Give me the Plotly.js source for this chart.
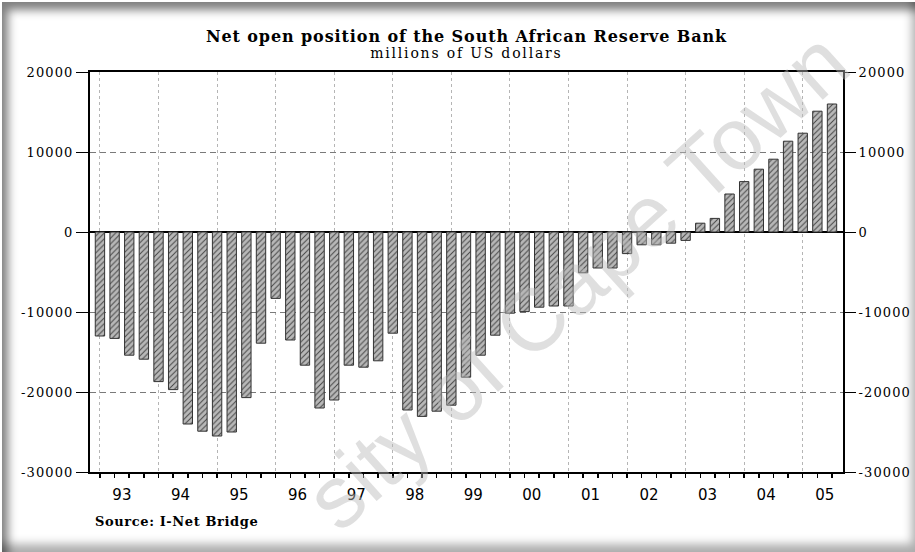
<!DOCTYPE html>
<html>
<head>
<meta charset="utf-8">
<script src="https://cdn.plot.ly/plotly-3.0.1.min.js"></script>
<style>
  html, body { margin: 0; padding: 0; background: #ffffff; }
  #wrap { position: relative; width: 915px; height: 552px; overflow: hidden; background: #ffffff; }
  #chart { position: absolute; left: 0; top: 0; width: 915px; height: 552px; }
  #frame { position: absolute; left: 2px; top: 2px; right: 0; bottom: 0; pointer-events: none;
           box-shadow: inset 10px 12px 10px -4px rgba(0,0,0,0.5), inset -7px -12px 10px -4px rgba(0,0,0,0.32); }
  #chart .gtitle { letter-spacing: 0.9px; }
  #chart .annotation[data-index="0"] text { letter-spacing: 1.8px; }
  #chart .annotation[data-index="1"] text { letter-spacing: 0.6px; }
  #chart .ytick text, #chart .y2tick text { letter-spacing: 1.1px; }
</style>
</head>
<body>
<div id="wrap"><div id="chart"></div><div id="frame"></div></div>
<script>
// Quarterly periods, 1993Q1 .. 2005Q3
const periods = [
  '1993Q1','1993Q2','1993Q3','1993Q4',
  '1994Q1','1994Q2','1994Q3','1994Q4',
  '1995Q1','1995Q2','1995Q3','1995Q4',
  '1996Q1','1996Q2','1996Q3','1996Q4',
  '1997Q1','1997Q2','1997Q3','1997Q4',
  '1998Q1','1998Q2','1998Q3','1998Q4',
  '1999Q1','1999Q2','1999Q3','1999Q4',
  '2000Q1','2000Q2','2000Q3','2000Q4',
  '2001Q1','2001Q2','2001Q3','2001Q4',
  '2002Q1','2002Q2','2002Q3','2002Q4',
  '2003Q1','2003Q2','2003Q3','2003Q4',
  '2004Q1','2004Q2','2004Q3','2004Q4',
  '2005Q1','2005Q2','2005Q3'
];
// Net open position, millions of US dollars
const netOpenPosition = [
  -13000, -13300, -15400, -15900,
  -18700, -19700, -24000, -24900,
  -25500, -25000, -20700, -13900,
  -8300, -13500, -16650, -22000,
  -21000, -16650, -16900, -16100,
  -12650, -22250, -23050, -22400,
  -21650, -18150, -15400, -12900,
  -10150, -9950, -9400, -9250,
  -9250, -5100, -4500, -4500,
  -2700, -1600, -1600, -1400,
  -1050, 1100, 1700, 4750,
  6300, 7850, 9100, 11350,
  12350, 15100, 16000
];
// Year tick labels
const yearLabels = ['93','94','95','96','97','98','99','00','01','02','03','04','05'];
const yTickVals = [20000, 10000, 0, -10000, -20000, -30000];
const yTickText = ['20000', '10000', '0', '-10000', '-20000', '-30000'];

const xIdx = periods.map((p, i) => i);
const yearStart = yearLabels.map((y, k) => k * 4);       // Q1 position of each year
const yearMid = yearLabels.map((y, k) => k * 4 + 1.5);   // label position
const xRange = [-0.68, 50.75];
const yRange = [-30000, 20000];

const bars = {
  type: 'bar',
  x: xIdx,
  y: netOpenPosition,
  customdata: periods,
  hovertemplate: '%{customdata}: %{y}<extra></extra>',
  width: 0.64,
  marker: {
    color: '#b4b4b4',
    line: { color: '#333333', width: 1 },
    pattern: { shape: '/', fgcolor: '#444444', bgcolor: '#b8b8b8', size: 4, solidity: 0.24, fillmode: 'replace' }
  },
  showlegend: false
};
const helper = {
  type: 'scatter', mode: 'markers',
  x: yearMid, y: yearMid.map(() => null),
  xaxis: 'x2', yaxis: 'y2', hoverinfo: 'skip', showlegend: false
};

const serif = 'DejaVu Serif, Liberation Serif, serif';
const sans = 'DejaVu Sans, Liberation Sans, sans-serif';

const layout = {
  width: 915, height: 552,
  margin: { l: 90, r: 72, t: 72, b: 80 },
  paper_bgcolor: '#ffffff', plot_bgcolor: '#ffffff',
  title: {
    text: 'Net open position of the South African Reserve Bank',
    font: { family: serif, size: 16, color: '#000', weight: 'bold' },
    x: 0.5, xref: 'paper', xanchor: 'center',
    y: 1 - 36 / 552, yref: 'container', yanchor: 'middle'
  },
  xaxis: {
    range: xRange, autorange: false,
    tickmode: 'array', tickvals: yearStart, ticktext: yearLabels.map(() => ''),
    ticks: 'outside', ticklen: 9, tickwidth: 1.5, tickcolor: '#000',
    showticklabels: false,
    showgrid: true, gridcolor: '#b5b5b5', gridwidth: 1, griddash: '3px,3px',
    minor: { tickmode: 'linear', tick0: 0, dtick: 1, ticks: 'outside', ticklen: 4, tickwidth: 1.5, tickcolor: '#000', showgrid: false },
    showline: true, linecolor: '#000', linewidth: 2, mirror: true,
    zeroline: false, fixedrange: true
  },
  xaxis2: {
    overlaying: 'x', side: 'bottom', range: xRange, autorange: false,
    tickmode: 'array', tickvals: yearMid, ticktext: yearLabels,
    ticks: 'outside', ticklen: 9, tickcolor: 'rgba(0,0,0,0)',
    tickfont: { family: sans, size: 15, color: '#000' },
    showgrid: false, showline: false, zeroline: false, fixedrange: true
  },
  yaxis: {
    range: yRange, autorange: false,
    tickmode: 'array', tickvals: yTickVals, ticktext: yTickText,
    ticks: 'outside', ticklen: 12, tickwidth: 1, tickcolor: '#000',
    tickfont: { family: serif, size: 13, color: '#000' },
    showgrid: true, gridcolor: '#7a7a7a', gridwidth: 1, griddash: '6px,4px',
    zeroline: true, zerolinecolor: '#000', zerolinewidth: 1.5,
    showline: true, linecolor: '#000', linewidth: 2, mirror: true,
    fixedrange: true
  },
  yaxis2: {
    overlaying: 'y', side: 'right', anchor: 'x', range: yRange, autorange: false,
    tickmode: 'array', tickvals: yTickVals, ticktext: yTickText,
    ticks: 'outside', ticklen: 12, tickwidth: 1, tickcolor: '#000',
    tickfont: { family: serif, size: 13, color: '#000' },
    showgrid: false, zeroline: false, showline: false, fixedrange: true
  },
  annotations: [
    {
      text: 'millions of US dollars', xref: 'paper', yref: 'paper',
      x: 0.5, y: (472 - 53) / 400, xanchor: 'center', yanchor: 'middle',
      showarrow: false, font: { family: serif, size: 14, color: '#000' }
    },
    {
      text: '<b>Source: I-Net Bridge</b>', xref: 'paper', yref: 'paper',
      x: (99 - 90) / 753, y: (472 - 521) / 400, xanchor: 'left', yanchor: 'middle',
      showarrow: false, font: { family: serif, size: 13, color: '#000' }
    },
    {
      text: 'sity of Cape Town', xref: 'paper', yref: 'paper',
      x: (576 - 90) / 753, y: (472 - 280) / 400, xanchor: 'center', yanchor: 'middle',
      textangle: -42, showarrow: false, borderpad: 0,
      font: { family: 'Liberation Sans, Arial, sans-serif', size: 88, color: 'rgba(185,185,185,0.45)' }
    }
  ]
};

Plotly.newPlot('chart', [bars, helper], layout, { displayModeBar: false, staticPlot: true });
</script>
</body>
</html>
